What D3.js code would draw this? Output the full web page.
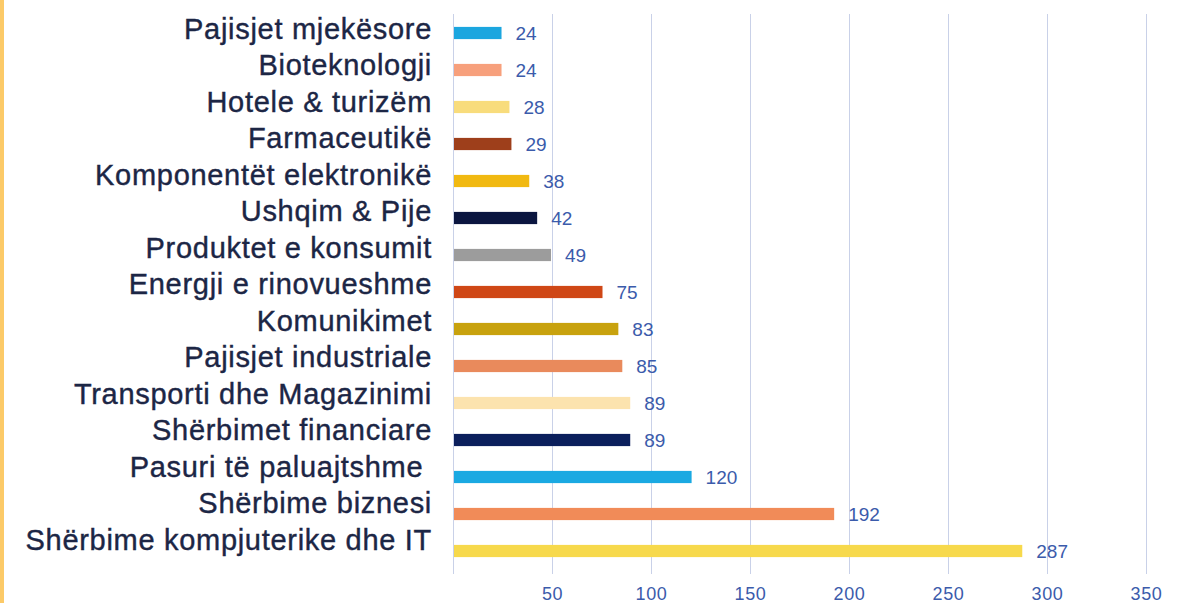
<!DOCTYPE html>
<html>
<head>
<meta charset="utf-8">
<script src="https://cdn.jsdelivr.net/npm/d3@7"></script>
<style>
  body { margin: 0; background: #fff; }
  svg { display: block; }
</style>
</head>
<body>
<svg id="chart" width="1186" height="603"></svg>
<script>
var categories = [
  "Pajisjet mjekësore", "Bioteknologji", "Hotele & turizëm", "Farmaceutikë",
  "Komponentët elektronikë", "Ushqim & Pije", "Produktet e konsumit",
  "Energji e rinovueshme", "Komunikimet", "Pajisjet industriale",
  "Transporti dhe Magazinimi", "Shërbimet financiare", "Pasuri të paluajtshme ",
  "Shërbime biznesi", "Shërbime kompjuterike dhe IT"
];
var values = [24, 24, 28, 29, 38, 42, 49, 75, 83, 85, 89, 89, 120, 192, 287];
var barColors = [
  "#1ba6df", "#f7a07c", "#f8dc7c", "#9e3f1b", "#f1b911", "#0b1640", "#9c9c9c",
  "#cf4716", "#c8a20e", "#e98a5c", "#fce3ae", "#0b1f5c", "#1aa9e2", "#f18b58", "#f7d94c"
];
var xTicks = [50, 100, 150, 200, 250, 300, 350];

var font = "Liberation Sans, Arial, sans-serif";
var svg = d3.select("#chart");

// orange strip on the left edge
svg.append("rect")
  .attr("x", 0).attr("y", 0)
  .attr("width", 4).attr("height", 603)
  .attr("fill", "#fcca68");

var x = d3.scaleLinear()
  .domain([0, 350])
  .range([453, 1146]);

var y = d3.scaleBand()
  .domain(categories)
  .range([14.5, 569.5])
  .paddingInner(0.67)
  .paddingOuter(0.335);

// the labels sit on a slightly tighter spacing than the bars
var yLabel = d3.scalePoint()
  .domain(categories)
  .range([28.5, 539.5]);

// gridlines
svg.append("g")
  .selectAll("line")
  .data([0].concat(xTicks))
  .join("line")
    .attr("x1", d => x(d) + 0.5)
    .attr("x2", d => x(d) + 0.5)
    .attr("y1", 14)
    .attr("y2", 574)
    .attr("stroke", "#c9d1e8")
    .attr("stroke-width", 1);

// tick labels
svg.append("g")
  .attr("transform", "translate(0,574)")
  .call(d3.axisBottom(x).tickValues(xTicks).tickSize(0).tickPadding(13))
  .call(g => g.select(".domain").remove())
  .selectAll("text")
    .attr("fill", "#3b5bab")
    .attr("font-family", font)
    .attr("font-size", 18)
    .attr("letter-spacing", 0.6);

// bars
svg.append("g")
  .selectAll("rect")
  .data(values)
  .join("rect")
    .attr("x", x(0) + 1)
    .attr("y", (d, i) => y(categories[i]))
    .attr("width", d => x(d) - x(0))
    .attr("height", y.bandwidth())
    .attr("fill", (d, i) => barColors[i]);

// value labels
svg.append("g")
  .selectAll("text")
  .data(values)
  .join("text")
    .attr("x", d => x(d) + 15)
    .attr("y", (d, i) => y(categories[i]) + y.bandwidth() / 2)
    .attr("dy", "0.36em")
    .attr("fill", "#3b5bab")
    .attr("font-family", font)
    .attr("font-size", 19)
    .text(d => d);

// category labels
svg.append("g")
  .selectAll("text")
  .data(categories)
  .join("text")
    .attr("x", 432)
    .attr("y", d => yLabel(d))
    .attr("dy", "0.36em")
    .attr("text-anchor", "end")
    .attr("fill", "#1c2645")
    .attr("stroke", "#1c2645")
    .attr("stroke-width", 0.4)
    .attr("font-family", font)
    .attr("font-size", 29)
    .attr("letter-spacing", 0.7)
    .style("white-space", "pre")
    .text(d => d);
</script>
</body>
</html>
